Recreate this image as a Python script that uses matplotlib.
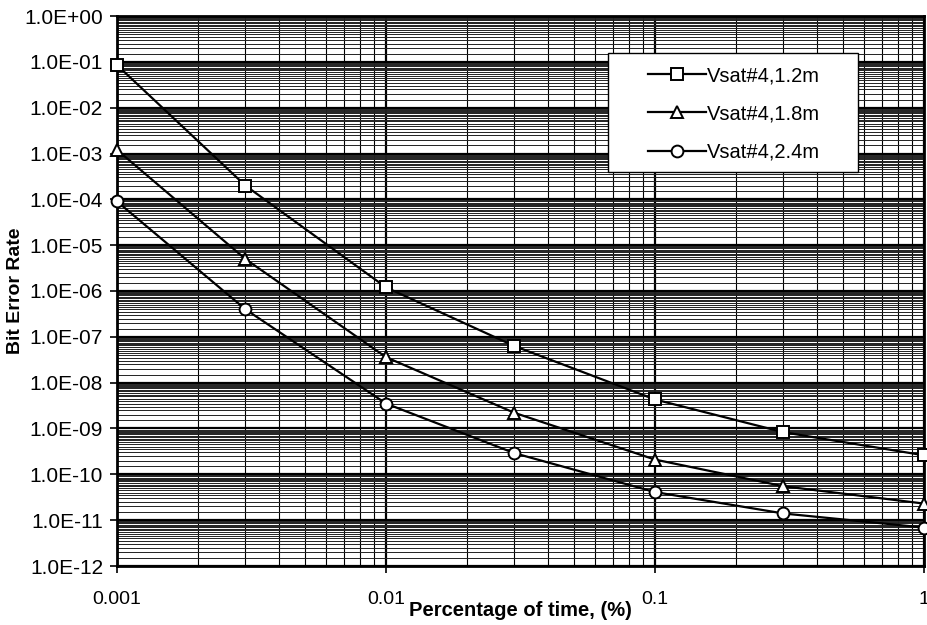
import numpy as np
import matplotlib
matplotlib.use("Agg")
import matplotlib.pyplot as plt
from matplotlib.patches import Rectangle
from matplotlib.ticker import LogLocator, FixedLocator, FuncFormatter, NullFormatter

plt.rcParams['font.family'] = ['Liberation Sans', 'DejaVu Sans']

x_pct = [0.001, 0.003, 0.01, 0.03, 0.1, 0.3, 1.0]
ber_12 = [8.5e-2, 2.0e-4, 1.2e-6, 6.3e-8, 4.3e-9, 8.3e-10, 2.6e-10]
ber_18 = [1.2e-3, 5.0e-6, 3.6e-8, 2.2e-9, 2.1e-10, 5.5e-11, 2.3e-11]
ber_24 = [9.0e-5, 4.0e-7, 3.5e-9, 2.9e-10, 4.1e-11, 1.4e-11, 6.9e-12]
labels = ["Vsat#4,1.2m", "Vsat#4,1.8m", "Vsat#4,2.4m"]
x_ticks = [0.001, 0.01, 0.1, 1]
x_ticklabels = ["0.001", "0.01", "0.1", "1"]

W, H = 928, 625
fig = plt.figure(figsize=(W/100, H/100), dpi=100)
ax = fig.add_axes([117/W, 1-566/H, (924-117)/W, (566-16)/H])
ax.set_xscale('log')
ax.set_yscale('log')
ax.set_xlim(0.001, 1)
ax.set_ylim(1e-12, 1)

# grid
ax.xaxis.set_minor_locator(LogLocator(base=10, subs=np.arange(2, 10)))
ax.yaxis.set_minor_locator(LogLocator(base=10, subs=np.arange(1.5, 10, 0.5), numticks=100))
ax.yaxis.set_major_locator(LogLocator(base=10, numticks=20))
ax.grid(which='major', axis='both', color='black', linewidth=1.6)
ax.grid(which='minor', axis='x', color='black', linewidth=0.8)
ax.grid(which='minor', axis='y', color='#222222', linewidth=0.7)

markers = ['s', '^', 'o']
for ys, m, lab in zip([ber_12, ber_18, ber_24], markers, labels):
    ax.plot(x_pct, ys, color='black', linewidth=1.6, marker=m, markersize=8.5,
            markerfacecolor='white', markeredgecolor='black', markeredgewidth=1.4,
            label=lab, clip_on=False, zorder=5)

ax.xaxis.set_major_locator(FixedLocator(x_ticks))
ax.set_xticklabels(x_ticklabels)
ax.xaxis.set_minor_formatter(NullFormatter())
ax.yaxis.set_minor_formatter(NullFormatter())

def yfmt(v, pos):
    e = int(round(np.log10(v)))
    sign = '+' if e >= 0 else '-'
    return "1.0E%s%02d" % (sign, abs(e))
ax.yaxis.set_major_formatter(FuncFormatter(yfmt))

ax.tick_params(axis='both', which='major', length=5, width=1.2, direction='out', color='black')
ax.tick_params(axis='y', which='major', pad=5, labelsize=15)
ax.tick_params(axis='x', which='major', pad=13, labelsize=14)
ax.tick_params(axis='both', which='minor', length=0)
for s in ax.spines.values():
    s.set_linewidth(2)
    s.set_color('black')

ax.set_ylabel("Bit Error Rate", fontsize=14, fontweight='bold', labelpad=0)
fig.text((117+924)/2/W, 1-610/H, "Percentage of time, (%)", ha='center', va='center',
         fontsize=14.5, fontweight='bold')

# legend box
bx0, by0, bx1, by1 = 608, 53, 858, 172
fig.patches.append(Rectangle((bx0/W, 1-by1/H), (bx1-bx0)/W, (by1-by0)/H,
                             transform=fig.transFigure, facecolor='white',
                             edgecolor='black', linewidth=1.0, zorder=10))
leg = fig.legend(*ax.get_legend_handles_labels(), loc='center',
                 bbox_to_anchor=((bx0+bx1)/2/W + 1/W, 1-(by0+by1+3)/2/H),
                 fontsize=14.5, frameon=False,
                 handlelength=2.9, labelspacing=0.95, borderpad=0, handletextpad=0.05,
                 borderaxespad=0)
leg.set_zorder(11)

fig.savefig("out.png", dpi=100)
